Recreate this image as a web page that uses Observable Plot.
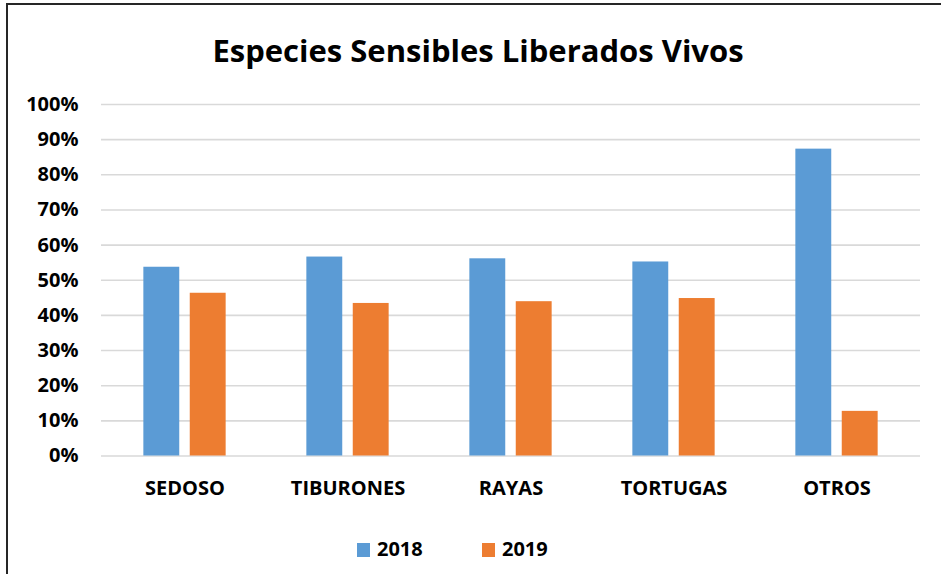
<!DOCTYPE html>
<html>
<head>
<meta charset="utf-8">
<script src="https://cdn.jsdelivr.net/npm/d3@7"></script>
<script src="https://cdn.jsdelivr.net/npm/@observablehq/plot@0.6"></script>
<style>
  html, body { margin: 0; padding: 0; background: #fff; }
  #wrap { position: relative; width: 941px; height: 574px; overflow: hidden; font-family: "Open Sans", Lato, sans-serif; font-weight: 700; color: #000; }
  #frame { position: absolute; left: 6px; top: 3px; right: -10px; bottom: -10px; border-left: 2px solid #262626; border-top: 2px solid #262626; }
  #title { position: absolute; left: 0; width: 956px; top: 29px; text-align: center; font-size: 31px; font-weight: 700; line-height: 42px; }
  #chart { position: absolute; left: 0; top: 80px; }
  .leg { position: absolute; top: 536px; font-size: 20px; line-height: 26px; }
  .sw { position: absolute; top: 543px; width: 13px; height: 14px; }
</style>
</head>
<body>
<div id="wrap">
  <div id="frame"></div>
  <div id="title">Especies Sensibles Liberados Vivos</div>
  <div id="chart"></div>
  <div id="legend"></div>
</div>
<script>
const categories = ["SEDOSO", "TIBURONES", "RAYAS", "TORTUGAS", "OTROS"];
const years = ["2018", "2019"];
const values2018 = [53.7, 56.6, 56.1, 55.2, 87.3];
const values2019 = [46.3, 43.4, 43.9, 44.8, 12.7];
const yTicks = [0, 10, 20, 30, 40, 50, 60, 70, 80, 90, 100];
const colors = ["#5b9bd5", "#ed7d31"];

const d2018 = categories.map((c, i) => ({cat: c, year: years[0], v: values2018[i]}));
const d2019 = categories.map((c, i) => ({cat: c, year: years[1], v: values2019[i]}));

const W = 941, H = 430;
const mL = 101, mR = 21;
const step = (W - mL - mR) / categories.length;
const barW = 36.7, gapIn = 9.7;
const outer = (step - 2 * barW - gapIn) / 2;

const chart = Plot.plot({
  width: W,
  height: H,
  marginLeft: mL,
  marginRight: mR,
  marginTop: 24,
  marginBottom: 54.5,
  style: {fontFamily: "'Open Sans', Lato, sans-serif", fontWeight: 700, fontSize: "20px", color: "#000", background: "transparent"},
  x: {type: "band", domain: categories, padding: 0, label: null},
  y: {domain: [0, 100], label: null},
  marks: [
    Plot.ruleY(yTicks, {stroke: "#d9d9d9", strokeWidth: 1.6}),
    Plot.barY(d2018, {x: "cat", y: "v", fill: colors[0], insetLeft: outer, insetRight: step - outer - barW}),
    Plot.barY(d2019, {x: "cat", y: "v", fill: colors[1], insetLeft: outer + barW + gapIn, insetRight: outer}),
    Plot.axisY({ticks: yTicks, tickSize: 0, tickPadding: 23, tickFormat: d => d + "%", fontSize: 20, fontWeight: 700, label: null}),
    Plot.axisX({tickSize: 0, tickPadding: 25, fontSize: 20, fontWeight: 700, label: null})
  ]
});
document.getElementById("chart").appendChild(chart);

const legend = document.getElementById("legend");
const legPos = [357, 482];
years.forEach((y, i) => {
  const sw = document.createElement("div");
  sw.className = "sw";
  sw.style.left = legPos[i] + "px";
  sw.style.background = colors[i];
  legend.appendChild(sw);
  const t = document.createElement("div");
  t.className = "leg";
  t.style.left = (legPos[i] + 20) + "px";
  t.textContent = y;
  legend.appendChild(t);
});
</script>
</body>
</html>
